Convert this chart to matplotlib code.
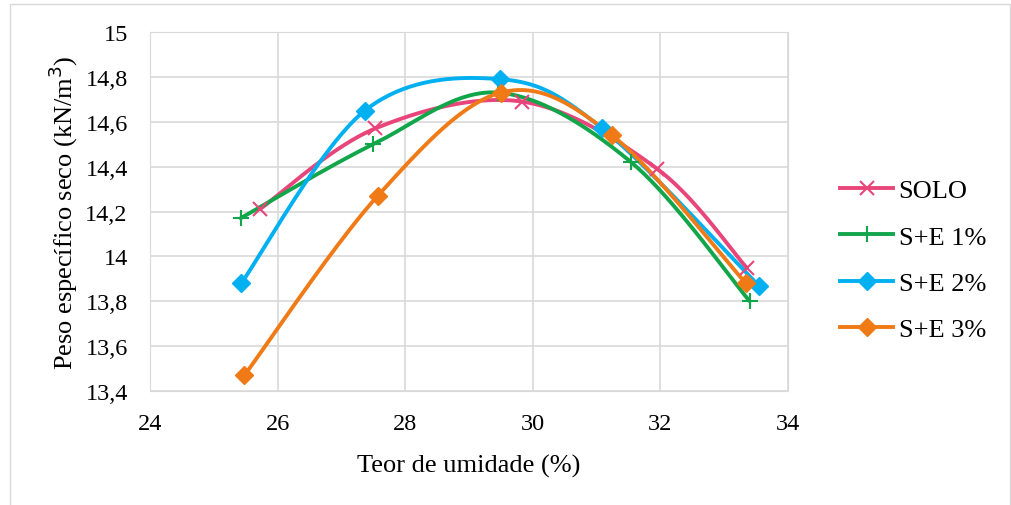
import numpy as np
import matplotlib
matplotlib.use('Agg')
import matplotlib.pyplot as plt
from matplotlib.patches import Rectangle
from matplotlib.ticker import FuncFormatter

plt.rcParams['font.family'] = ['Liberation Serif', 'DejaVu Serif']

# Data
solo_x = [25.72, 27.53, 29.83, 31.95, 33.35]
solo_y = [14.21, 14.57, 14.69, 14.39, 13.95]

se1_x = [25.42, 27.50, 29.45, 31.54, 33.40]
se1_y = [14.17, 14.50, 14.73, 14.42, 13.80]

se2_x = [25.43, 27.37, 29.48, 31.09, 33.54]
se2_y = [13.88, 14.65, 14.79, 14.57, 13.87]

se3_x = [25.48, 27.57, 29.50, 31.24, 33.34]
se3_y = [13.47, 14.27, 14.73, 14.54, 13.88]

series_names = ['SOLO', 'S+E 1%', 'S+E 2%', 'S+E 3%']


def smooth(x, y, n=40):
    # Excel-like smoothed line (Catmull-Rom through the points)
    p = np.column_stack([x, y])
    p = np.vstack([p[0], p, p[-1]])
    out = []
    for i in range(1, len(p) - 2):
        p0, p1, p2, p3 = p[i - 1], p[i], p[i + 1], p[i + 2]
        c1 = p1 + (p2 - p0) / 6
        c2 = p2 - (p3 - p1) / 6
        t = np.linspace(0, 1, n)[:, None]
        seg = ((1 - t) ** 3) * p1 + 3 * ((1 - t) ** 2) * t * c1 + 3 * (1 - t) * t ** 2 * c2 + t ** 3 * p2
        out.append(seg)
    seg = np.vstack(out)
    return seg[:, 0], seg[:, 1]


fig = plt.figure(figsize=(10.12, 5.06), dpi=100)
fig.patches.append(Rectangle((10 / 1012, -0.05), 1000 / 1012, 1.05 - 5 / 506,
                             transform=fig.transFigure, fill=False,
                             edgecolor='#d9d9d9', lw=1))
ax = fig.add_axes([150 / 1012, 1 - 392 / 506, 638 / 1012, 359 / 506])

styles = [
    (solo_x, solo_y, '#E8457A', 'x', 10, 1.5),
    (se1_x, se1_y, '#12A64B', '+', 12, 1.5),
    (se2_x, se2_y, '#00B0F0', 'D', 9, 1),
    (se3_x, se3_y, '#F07A16', 'D', 9, 1),
]

for (xs, ys, col, mk, ms, mew), name in zip(styles, series_names):
    sx, sy = smooth(xs, ys)
    ax.plot(sx, sy, color=col, lw=2.8, solid_capstyle='round', zorder=3)
    ax.plot(xs, ys, ls='none', marker=mk, ms=ms, color=col, mew=mew, zorder=4)
    ax.plot([], [], color=col, lw=2.8, marker=mk, ms=ms, mew=mew, label=name)

ax.set_xlim(24, 34)
ax.set_ylim(13.4, 15)
ax.set_xticks(np.arange(24, 35, 2))
ax.set_yticks(np.arange(13.4, 15.01, 0.2))
ax.yaxis.set_major_formatter(FuncFormatter(lambda v, p: ('%.1f' % v).rstrip('0').rstrip('.').replace('.', ',')))
ax.grid(True, color='#d9d9d9', lw=1.2)
ax.set_axisbelow(True)
for s in ax.spines.values():
    s.set_color('#d9d9d9')
ax.tick_params(length=0, labelsize=17.5)
ax.tick_params(axis='x', pad=16)
ax.tick_params(axis='y', pad=16)

ax.set_xlabel('Teor de umidade (%)', fontsize=19, labelpad=14)
ax.set_ylabel('Peso específico seco (kN/m$^3$)', fontsize=19, labelpad=4)

ax.legend(loc='center left', bbox_to_anchor=(1.045, 0.365), frameon=False,
          fontsize=19, handlelength=2.0, handletextpad=0.2, labelspacing=0.86)

fig.savefig('out.png', dpi=100)
